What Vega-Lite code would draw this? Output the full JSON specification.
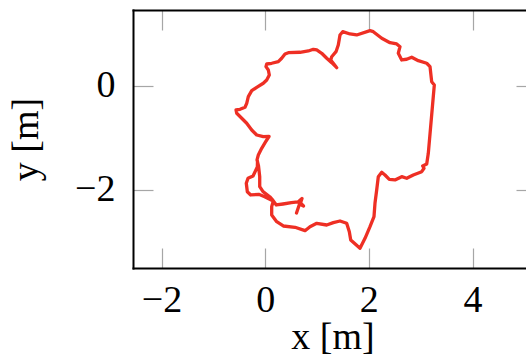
{
  "$schema": "https://vega.github.io/schema/vega-lite/v6.json",
  "width": 393,
  "height": 258,
  "autosize": {"type": "none"},
  "padding": {"left": 133, "top": 10, "right": 0, "bottom": 88},
  "background": "white",
  "config": {
    "view": {"stroke": null},
    "axis": {
      "labelFont": "Liberation Serif",
      "titleFont": "Liberation Serif",
      "labelFontSize": 38,
      "titleFontSize": 38,
      "titleFontWeight": "normal",
      "labelColor": "black",
      "titleColor": "black",
      "grid": false,
      "tickColor": "#a6a6a6",
      "tickWidth": 1.2,
      "tickSize": -20,
      "domainColor": "black",
      "domainWidth": 2,
      "domainCap": "square",
      "labelOverlap": false,
      "labelFlush": false,
      "labelBound": false
    }
  },
  "data": {
    "values": [
      {"i": 1, "x": 0.604, "y": -2.444}, {"i": 2, "x": 0.662, "y": -2.272}, {"i": 3, "x": 0.739, "y": -2.31},
      {"i": 4, "x": 0.681, "y": -2.252}, {"i": 5, "x": 0.71, "y": -2.166}, {"i": 6, "x": 0.633, "y": -2.233},
      {"i": 7, "x": 0.504, "y": -2.247}, {"i": 8, "x": 0.343, "y": -2.272}, {"i": 9, "x": 0.214, "y": -2.291},
      {"i": 10, "x": 0.15, "y": -2.204}, {"i": 11, "x": 0.087, "y": -2.132}, {"i": 12, "x": -0.042, "y": -2.036},
      {"i": 13, "x": -0.106, "y": -1.94}, {"i": 14, "x": -0.106, "y": -1.748}, {"i": 15, "x": -0.129, "y": -1.543},
      {"i": 16, "x": -0.158, "y": -1.427}, {"i": 17, "x": -0.133, "y": -1.332}, {"i": 18, "x": -0.068, "y": -1.203},
      {"i": 19, "x": 0.006, "y": -1.082}, {"i": 20, "x": 0.073, "y": -0.977}, {"i": 21, "x": -0.037, "y": -0.98},
      {"i": 22, "x": -0.164, "y": -0.948}, {"i": 23, "x": -0.26, "y": -0.852}, {"i": 24, "x": -0.357, "y": -0.723},
      {"i": 25, "x": -0.453, "y": -0.627}, {"i": 26, "x": -0.55, "y": -0.531}, {"i": 27, "x": -0.563, "y": -0.468},
      {"i": 28, "x": -0.486, "y": -0.455}, {"i": 29, "x": -0.39, "y": -0.416}, {"i": 30, "x": -0.357, "y": -0.34},
      {"i": 31, "x": -0.326, "y": -0.213}, {"i": 32, "x": -0.26, "y": -0.098}, {"i": 33, "x": -0.164, "y": -0.033},
      {"i": 34, "x": -0.037, "y": 0.044}, {"i": 35, "x": 0.029, "y": 0.107}, {"i": 36, "x": 0.079, "y": 0.203},
      {"i": 37, "x": 0.06, "y": 0.299}, {"i": 38, "x": 0.015, "y": 0.363}, {"i": 39, "x": 0.029, "y": 0.414},
      {"i": 40, "x": 0.125, "y": 0.428}, {"i": 41, "x": 0.253, "y": 0.459}, {"i": 42, "x": 0.318, "y": 0.524},
      {"i": 43, "x": 0.382, "y": 0.606}, {"i": 44, "x": 0.446, "y": 0.631}, {"i": 45, "x": 0.671, "y": 0.639},
      {"i": 46, "x": 0.832, "y": 0.664}, {"i": 47, "x": 0.928, "y": 0.696}, {"i": 48, "x": 0.994, "y": 0.683},
      {"i": 49, "x": 1.09, "y": 0.62}, {"i": 50, "x": 1.187, "y": 0.524}, {"i": 51, "x": 1.283, "y": 0.439},
      {"i": 52, "x": 1.38, "y": 0.343}, {"i": 53, "x": 1.314, "y": 0.428}, {"i": 54, "x": 1.264, "y": 0.491},
      {"i": 55, "x": 1.283, "y": 0.554}, {"i": 56, "x": 1.366, "y": 0.65}, {"i": 57, "x": 1.41, "y": 0.779},
      {"i": 58, "x": 1.443, "y": 0.971}, {"i": 59, "x": 1.495, "y": 1.034}, {"i": 60, "x": 1.636, "y": 0.99},
      {"i": 61, "x": 1.765, "y": 0.971}, {"i": 62, "x": 2.022, "y": 1.053}, {"i": 63, "x": 2.086, "y": 1.034},
      {"i": 64, "x": 2.248, "y": 0.907}, {"i": 65, "x": 2.408, "y": 0.823}, {"i": 66, "x": 2.537, "y": 0.798},
      {"i": 67, "x": 2.601, "y": 0.746}, {"i": 68, "x": 2.568, "y": 0.62}, {"i": 69, "x": 2.634, "y": 0.491},
      {"i": 70, "x": 2.73, "y": 0.505}, {"i": 71, "x": 2.827, "y": 0.543}, {"i": 72, "x": 2.954, "y": 0.478},
      {"i": 73, "x": 3.116, "y": 0.428}, {"i": 74, "x": 3.18, "y": 0.363}, {"i": 75, "x": 3.212, "y": 0.075},
      {"i": 76, "x": 3.263, "y": 0.012}, {"i": 77, "x": 3.147, "y": -1.299}, {"i": 78, "x": 3.116, "y": -1.504},
      {"i": 79, "x": 3.039, "y": -1.543}, {"i": 80, "x": 3.064, "y": -1.587}, {"i": 81, "x": 3.02, "y": -1.652},
      {"i": 82, "x": 2.857, "y": -1.715}, {"i": 83, "x": 2.73, "y": -1.779}, {"i": 84, "x": 2.634, "y": -1.748},
      {"i": 85, "x": 2.504, "y": -1.811}, {"i": 86, "x": 2.394, "y": -1.798}, {"i": 87, "x": 2.311, "y": -1.715},
      {"i": 88, "x": 2.248, "y": -1.663}, {"i": 89, "x": 2.182, "y": -1.748}, {"i": 90, "x": 2.151, "y": -2.003},
      {"i": 91, "x": 2.118, "y": -2.258}, {"i": 92, "x": 2.099, "y": -2.515}, {"i": 93, "x": 2.022, "y": -2.707},
      {"i": 94, "x": 1.926, "y": -2.93}, {"i": 95, "x": 1.829, "y": -3.122}, {"i": 96, "x": 1.65, "y": -2.962},
      {"i": 97, "x": 1.623, "y": -2.803}, {"i": 98, "x": 1.572, "y": -2.642}, {"i": 99, "x": 1.443, "y": -2.598},
      {"i": 100, "x": 1.314, "y": -2.63}, {"i": 101, "x": 1.187, "y": -2.675}, {"i": 102, "x": 0.994, "y": -2.642},
      {"i": 103, "x": 0.864, "y": -2.707}, {"i": 104, "x": 0.768, "y": -2.784}, {"i": 105, "x": 0.575, "y": -2.719},
      {"i": 106, "x": 0.349, "y": -2.694}, {"i": 107, "x": 0.222, "y": -2.611}, {"i": 108, "x": 0.125, "y": -2.483},
      {"i": 109, "x": 0.125, "y": -2.323}, {"i": 110, "x": 0.156, "y": -2.214}, {"i": 111, "x": -0.01, "y": -2.132},
      {"i": 112, "x": -0.125, "y": -2.086}, {"i": 113, "x": -0.28, "y": -2.099}, {"i": 114, "x": -0.345, "y": -2.036},
      {"i": 115, "x": -0.365, "y": -1.874}, {"i": 116, "x": -0.332, "y": -1.779}, {"i": 117, "x": -0.235, "y": -1.734},
      {"i": 118, "x": -0.152, "y": -1.562}, {"i": 119, "x": -0.149, "y": -1.447}
    ]
  },
  "layer": [
    {
      "mark": {"type": "line", "color": "#ee2f24", "strokeWidth": 3.3, "strokeCap": "round", "strokeJoin": "round"},
      "encoding": {
        "x": {
          "field": "x", "type": "quantitative",
          "scale": {"domain": [-2.551, 5.032], "nice": false, "zero": false},
          "axis": {"orient": "bottom", "values": [-2, 0, 2, 4], "title": "x [m]",
                   "labelPadding": 33, "titleBaseline": "alphabetic", "titleX": 199.5, "titleY": 80}
        },
        "y": {
          "field": "y", "type": "quantitative",
          "scale": {"domain": [-3.5, 1.45], "nice": false, "zero": false},
          "axis": {"orient": "left", "values": [-2, 0], "title": "y [m]",
                   "labelPadding": 38, "titleBaseline": "alphabetic", "titleX": -96, "titleY": 129}
        },
        "order": {"field": "i"}
      }
    },
    {
      "mark": {"type": "line", "opacity": 0},
      "encoding": {
        "x": {
          "field": "x", "type": "quantitative",
          "axis": {"orient": "top", "values": [-2, 0, 2, 4], "labels": false, "title": null}
        },
        "y": {
          "field": "y", "type": "quantitative",
          "axis": {"orient": "right", "values": [-2, 0], "labels": false, "title": null, "domain": false, "offset": 10}
        },
        "order": {"field": "i"}
      }
    }
  ],
  "resolve": {"axis": {"x": "independent", "y": "independent"}}
}
